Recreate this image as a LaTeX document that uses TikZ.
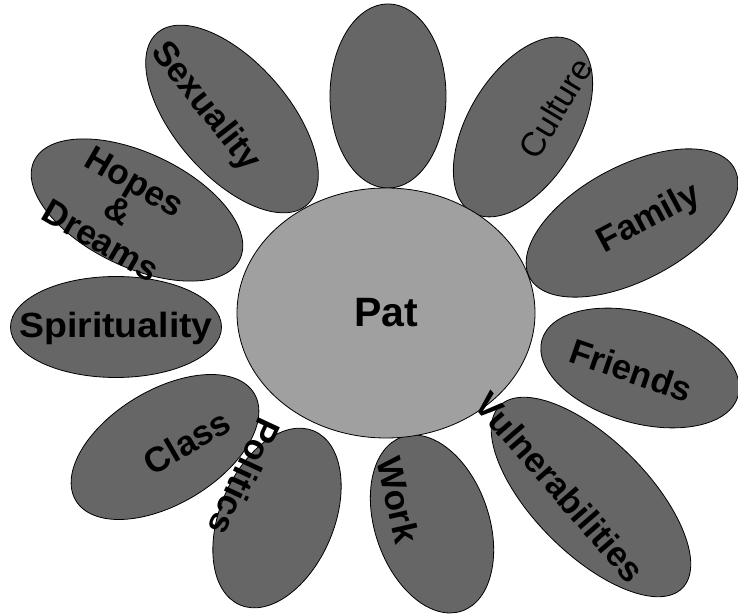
\documentclass[tikz,border=0pt]{standalone}
\usepackage{fontspec}
\setmainfont{Liberation Sans}
\usetikzlibrary{shapes.geometric}
\definecolor{petalgray}{HTML}{666666}
\definecolor{centergray}{HTML}{A0A0A0}
\begin{document}
\begin{tikzpicture}[x=1pt,y=1pt,
  petal/.style={ellipse, draw=black, line width=0.8pt, fill=petalgray, inner sep=0pt, outer sep=0pt},
  hub/.style={ellipse, draw=black, line width=0.8pt, fill=centergray, inner sep=0pt, outer sep=0pt},
  lbl/.style={font=\bfseries\fontsize{35}{34}\selectfont, inner sep=0pt, text=black, align=center},
  lblthin/.style={font=\fontsize{34}{34}\selectfont, inner sep=0pt, text=black}]
\useasboundingbox (0,0) rectangle (738,615);
% petals
\node[petal, minimum width=116, minimum height=184] (pTop) at (388,519) {};
\node[petal, minimum width=199, minimum height=110, rotate=59] (pCulture) at (523,488) {};
\node[petal, minimum width=232, minimum height=114, rotate=28] (pFamily) at (632,392) {};
\node[petal, minimum width=204, minimum height=110, rotate=-16] (pFriends) at (640,247) {};
\node[petal, minimum width=258, minimum height=114, rotate=-45] (pVuln) at (591,118) {};
\node[petal, minimum width=184, minimum height=114, rotate=-71] (pWork) at (432,91) {};
\node[petal, minimum width=189, minimum height=114, rotate=67] (pPolitics) at (277,97) {};
\node[petal, minimum width=208, minimum height=114, rotate=31] (pClass) at (165,168) {};
\node[petal, minimum width=211, minimum height=101] (pSpirit) at (116,288) {};
\node[petal, minimum width=228, minimum height=114, rotate=-25.5] (pHopes) at (137,405) {};
\node[petal, minimum width=228, minimum height=114, rotate=-49] (pSex) at (232,496) {};
% centre
\node[hub, minimum width=298, minimum height=250] (hub) at (386,302) {};
% labels
\node[lbl, font=\bfseries\fontsize{41}{41}\selectfont] (tPat) at (386,302.5) {Pat};
\node[lblthin, rotate=59] (tCulture) at (555.5,507) {Culture};
\node[lbl, rotate=28] (tFamily) at (649,396) {Family};
\node[lbl, rotate=-19] (tFriends) at (631,245) {Friends};
\node[lbl, rotate=-49] (tVuln) at (560,128) {Vulnerabilities};
\node[lbl, rotate=-77] (tWork) at (398,115) {Work};
\node[lbl, rotate=-115] (tPolitics) at (245,138) {Politics};
\node[lbl, rotate=30] (tClass) at (187,173) {Class};
\node[lbl, xscale=1.07] (tSpirit) at (116,287) {Spirituality};
\node[lbl, rotate=-30] (tHopes) at (118,404) {Hopes\\\&\\Dreams};
\node[lbl, rotate=-52] (tSex) at (205,508) {Sexuality};
\end{tikzpicture}
\end{document}
